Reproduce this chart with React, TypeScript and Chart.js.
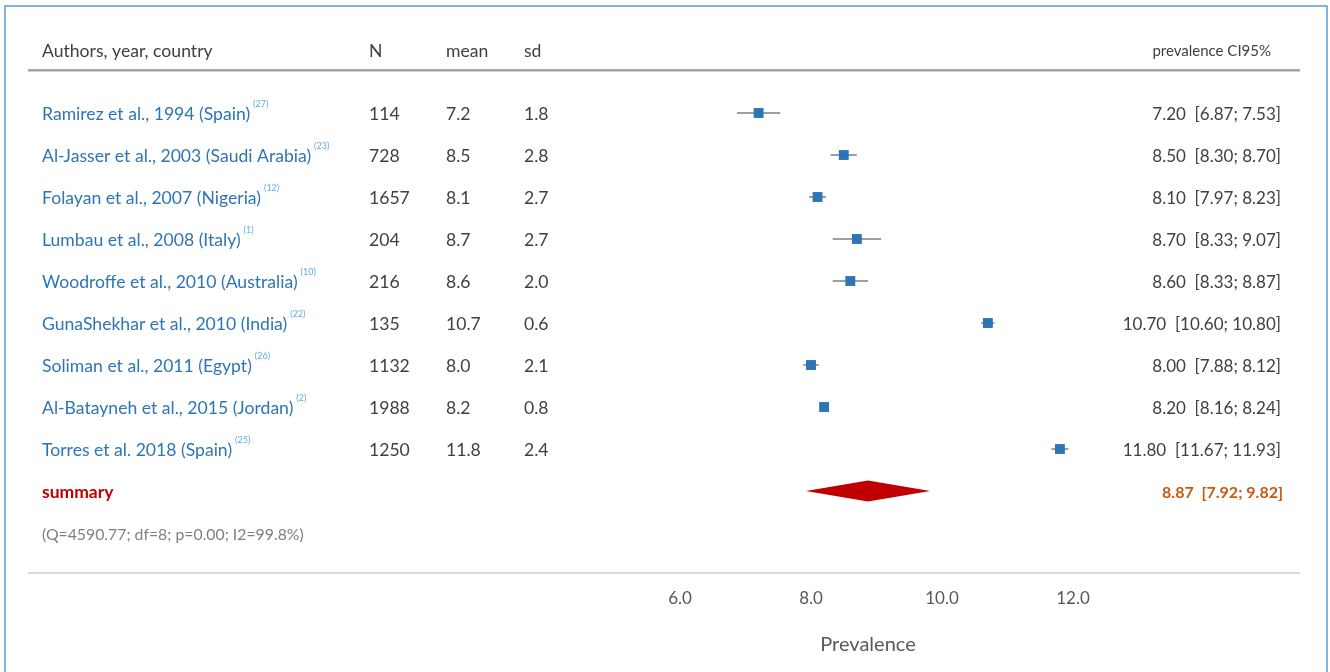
import React, { useEffect, useRef } from "react";
import { Chart, registerables } from "chart.js";

Chart.register(...registerables);

const studies = [
  "Ramirez et al., 1994 (Spain)",
  "Al-Jasser et al., 2003 (Saudi Arabia)",
  "Folayan et al., 2007 (Nigeria)",
  "Lumbau et al., 2008 (Italy)",
  "Woodroffe et al., 2010 (Australia)",
  "GunaShekhar et al., 2010 (India)",
  "Soliman et al., 2011 (Egypt)",
  "Al-Batayneh et al., 2015 (Jordan)",
  "Torres et al. 2018 (Spain)",
];
const refs = ["(27)", "(23)", "(12)", "(1)", "(10)", "(22)", "(26)", "(2)", "(25)"];
const nValues = [114, 728, 1657, 204, 216, 135, 1132, 1988, 1250];
const meanValues = ["7.2", "8.5", "8.1", "8.7", "8.6", "10.7", "8.0", "8.2", "11.8"];
const sdValues = ["1.8", "2.8", "2.7", "2.7", "2.0", "0.6", "2.1", "0.8", "2.4"];
const prevalence = [7.2, 8.5, 8.1, 8.7, 8.6, 10.7, 8.0, 8.2, 11.8];
const ciLower = [6.87, 8.3, 7.97, 8.33, 8.33, 10.6, 7.88, 8.16, 11.67];
const ciUpper = [7.53, 8.7, 8.23, 9.07, 8.87, 10.8, 8.12, 8.24, 11.93];
const summaryEstimate = 8.87;
const summaryLower = 7.92;
const summaryUpper = 9.82;
const heterogeneity = "(Q=4590.77; df=8; p=0.00; I2=99.8%)";
const xTicks = [6, 8, 10, 12];
const headers = ["Authors, year, country", "N", "mean", "sd"];

const FONT = "Lato";

export default function App() {
  const ref = useRef<HTMLCanvasElement | null>(null);
  useEffect(() => {
    const canvas = ref.current;
    if (!canvas) return;
    const summaryRow = studies.length;
    const statsRow = studies.length + 1;
    const dy = 1.5;

    const forestPlugin = {
      id: "forest",
      beforeDatasetsDraw(chart: any) {
        const ctx = chart.ctx;
        const xs = chart.scales.x;
        const ys = chart.scales.y;
        ctx.save();
        ctx.strokeStyle = "#7f7f7f";
        ctx.lineWidth = 1.5;
        for (let i = 0; i < studies.length; i++) {
          const y = ys.getPixelForValue(i);
          ctx.beginPath();
          ctx.moveTo(xs.getPixelForValue(ciLower[i]), y);
          ctx.lineTo(xs.getPixelForValue(ciUpper[i]), y);
          ctx.stroke();
        }
        const ySum = ys.getPixelForValue(summaryRow);
        const h = Math.abs(ys.getPixelForValue(summaryRow + 0.25) - ySum);
        ctx.fillStyle = "#C00000";
        ctx.beginPath();
        ctx.moveTo(xs.getPixelForValue(summaryLower), ySum);
        ctx.lineTo(xs.getPixelForValue(summaryEstimate), ySum - h);
        ctx.lineTo(xs.getPixelForValue(summaryUpper), ySum);
        ctx.lineTo(xs.getPixelForValue(summaryEstimate), ySum + h);
        ctx.closePath();
        ctx.fill();
        ctx.restore();
      },
      afterDraw(chart: any) {
        const ctx = chart.ctx;
        const xs = chart.scales.x;
        const ys = chart.scales.y;
        const area = chart.chartArea;
        ctx.save();
        // frame
        ctx.strokeStyle = "#5B9BD5";
        ctx.lineWidth = 1.5;
        ctx.strokeRect(5, 6, 1322, 720);

        ctx.textBaseline = "middle";
        const colX = [42, 369, 446, 524];
        const yHead = ys.getPixelForValue(-1.5) + dy;
        ctx.fillStyle = "#404040";
        ctx.font = `17.6px ${FONT}`;
        ctx.textAlign = "left";
        headers.forEach((t, k) => ctx.fillText(t, colX[k], yHead));
        ctx.font = `15px ${FONT}`;
        ctx.textAlign = "right";
        ctx.fillText("prevalence CI95%", 1271, yHead);

        // header line
        const yLine = ys.getPixelForValue(-1.02);
        ctx.strokeStyle = "#a6a6a6";
        ctx.lineWidth = 2.5;
        ctx.beginPath();
        ctx.moveTo(28, yLine);
        ctx.lineTo(1300, yLine);
        ctx.stroke();

        for (let i = 0; i < studies.length; i++) {
          const y = ys.getPixelForValue(i) + dy;
          ctx.textAlign = "left";
          ctx.font = `17.6px ${FONT}`;
          ctx.fillStyle = "#2E75B6";
          ctx.fillText(studies[i], colX[0], y);
          const w = ctx.measureText(studies[i]).width;
          ctx.font = `9px ${FONT}`;
          ctx.fillStyle = "#5BAEE3";
          ctx.fillText(refs[i], colX[0] + w + 3, y - 10);
          ctx.font = `17.6px ${FONT}`;
          ctx.fillStyle = "#404040";
          ctx.fillText(String(nValues[i]), colX[1], y);
          ctx.fillText(meanValues[i], colX[2], y);
          ctx.fillText(sdValues[i], colX[3], y);
          ctx.textAlign = "right";
          ctx.font = `17px ${FONT}`;
          ctx.fillText(
            `${prevalence[i].toFixed(2)}  [${ciLower[i].toFixed(2)}; ${ciUpper[i].toFixed(2)}]`,
            1281,
            y
          );
        }
        const ySum = ys.getPixelForValue(summaryRow) + dy;
        ctx.textAlign = "left";
        ctx.font = `bold 17.5px ${FONT}`;
        ctx.fillStyle = "#C00000";
        ctx.fillText("summary", colX[0], ySum);
        ctx.textAlign = "right";
        ctx.fillStyle = "#C55A11";
        ctx.font = `bold 16px ${FONT}`;
        ctx.fillText(
          `${summaryEstimate.toFixed(2)}  [${summaryLower.toFixed(2)}; ${summaryUpper.toFixed(2)}]`,
          1283,
          ySum
        );
        ctx.textAlign = "left";
        ctx.font = `15.8px ${FONT}`;
        ctx.fillStyle = "#7f7f7f";
        ctx.fillText(heterogeneity, colX[0], ys.getPixelForValue(statsRow) + dy);

        // bottom separator
        ctx.strokeStyle = "#d9d9d9";
        ctx.lineWidth = 2;
        ctx.beginPath();
        ctx.moveTo(28, area.bottom);
        ctx.lineTo(1300, area.bottom);
        ctx.stroke();

        // x ticks
        ctx.textAlign = "center";
        ctx.fillStyle = "#595959";
        ctx.font = `17px ${FONT}`;
        xTicks.forEach((t) => {
          ctx.fillText(t.toFixed(1), xs.getPixelForValue(t), area.bottom + 26);
        });
        ctx.font = `20px ${FONT}`;
        ctx.fillText("Prevalence", (area.left + area.right) / 2, area.bottom + 72);
        ctx.restore();
      },
    };

    const chart = new Chart(canvas, {
      type: "scatter",
      data: {
        datasets: [
          {
            data: prevalence.map((v, i) => ({ x: v, y: i })),
            pointStyle: "rect",
            pointRadius: 7,
            pointHoverRadius: 7,
            backgroundColor: "#2E75B6",
            borderWidth: 0,
          },
        ],
      },
      options: {
        animation: false,
        responsive: false,
        maintainAspectRatio: false,
        events: [],
        layout: { padding: { left: 549, right: 143, top: 29, bottom: 99 } },
        plugins: { legend: { display: false }, tooltip: { enabled: false } },
        scales: {
          x: { type: "linear", min: 4, max: 13.74, display: false },
          y: { type: "linear", min: -2, max: 10.952, reverse: true, display: false },
        },
      },
      plugins: [forestPlugin],
    });
    return () => chart.destroy();
  }, []);

  return (
    <div style={{ position: "fixed", left: 0, top: 0, width: 1330, height: 672, background: "#fff" }}>
      <canvas ref={ref} width={1330} height={672} style={{ display: "block" }} />
    </div>
  );
}
